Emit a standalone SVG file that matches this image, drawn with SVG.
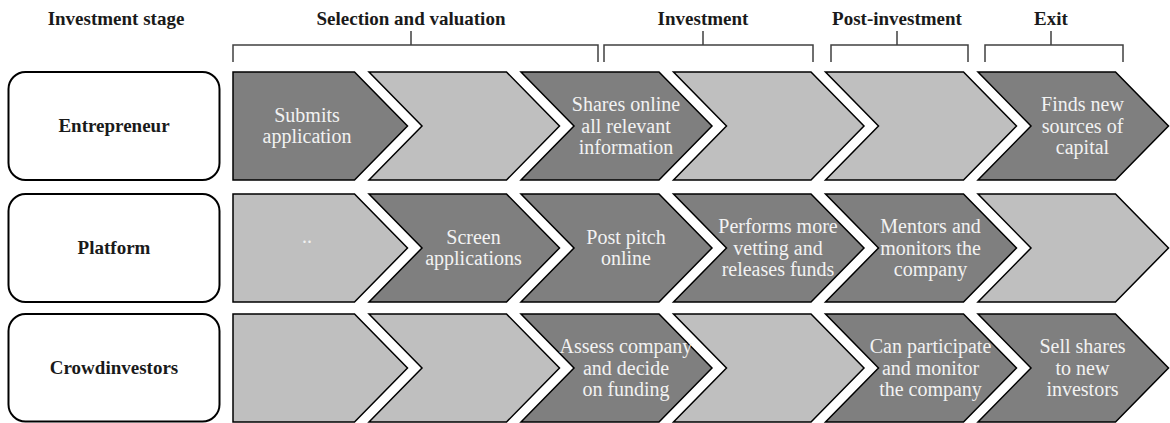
<svg xmlns="http://www.w3.org/2000/svg" xmlns:xlink="http://www.w3.org/1999/xlink" width="1170" height="423" viewBox="0 0 1170 423">
<style>
.hd{font-family:"Liberation Serif",serif;font-weight:bold;font-size:19px;fill:#1a1a1a;text-anchor:middle}
.lb{font-family:"Liberation Serif",serif;font-weight:bold;font-size:19px;fill:#1a1a1a;text-anchor:middle}
.box{fill:#ffffff;stroke:#000;stroke-width:2}
.dark{fill:#7f7f7f;stroke:#000;stroke-width:1.5;stroke-linejoin:miter}
.light{fill:#bfbfbf;stroke:#000;stroke-width:1.5;stroke-linejoin:miter}
.ct{font-family:"Liberation Serif",serif;font-size:20px;fill:#f2f2f2;text-anchor:middle}
.br{fill:none;stroke:#404040;stroke-width:1.5}
</style>
<defs>
<path id="ch1" d="M233,0 L354.5,0 L407.5,54 L354.5,108 L233,108 Z"/>
<path id="ch2" d="M369,0 L506.5,0 L559.5,54 L506.5,108 L369,108 L422,54 Z"/>
<path id="ch3" d="M521,0 L659,0 L712,54 L659,108 L521,108 L574,54 Z"/>
<path id="ch4" d="M673.5,0 L811,0 L864,54 L811,108 L673.5,108 L726.5,54 Z"/>
<path id="ch5" d="M825.5,0 L963.5,0 L1016.5,54 L963.5,108 L825.5,108 L878.5,54 Z"/>
<path id="ch6" d="M978,0 L1115.5,0 L1168.5,54 L1115.5,108 L978,108 L1031,54 Z"/>
</defs>

<g id="header">
<text class="hd" x="116" y="25">Investment stage</text>
<text class="hd" x="411" y="25">Selection and valuation</text>
<text class="hd" x="703" y="25">Investment</text>
<text class="hd" x="897" y="25">Post-investment</text>
<text class="hd" x="1051" y="25">Exit</text>
</g>

<g id="brackets">
<path class="br" d="M233,62 V45 H598 V62 M411,45 V31"/>
<path class="br" d="M604,62 V45 H813 V62 M703,45 V31"/>
<path class="br" d="M831,62 V45 H968 V62 M897,45 V31"/>
<path class="br" d="M985,62 V45 H1123 V62 M1051,45 V31"/>
</g>

<!-- Row 1: Entrepreneur -->
<g id="entrepreneur">
<rect class="box" x="8.5" y="72" width="211" height="108" rx="17"/>
<text class="lb" x="114" y="132">Entrepreneur</text>
</g>
<g id="r1c1"><use xlink:href="#ch1" class="dark" y="72"/>
<text class="ct" x="307"><tspan x="307" y="121.75">Submits</tspan><tspan x="307" y="143.25">application</tspan></text></g>
<g id="r1c2"><use xlink:href="#ch2" class="light" y="72"/></g>
<g id="r1c3"><use xlink:href="#ch3" class="dark" y="72"/>
<text class="ct" x="626"><tspan x="626" y="111">Shares online</tspan><tspan x="626" y="132.5">all relevant</tspan><tspan x="626" y="154">information</tspan></text></g>
<g id="r1c4"><use xlink:href="#ch4" class="light" y="72"/></g>
<g id="r1c5"><use xlink:href="#ch5" class="light" y="72"/></g>
<g id="r1c6"><use xlink:href="#ch6" class="dark" y="72"/>
<text class="ct" x="1082.5"><tspan x="1082.5" y="111">Finds new</tspan><tspan x="1082.5" y="132.5">sources of</tspan><tspan x="1082.5" y="154">capital</tspan></text></g>

<!-- Row 2: Platform -->
<g id="platform">
<rect class="box" x="8.5" y="194" width="211" height="108" rx="17"/>
<text class="lb" x="114" y="254">Platform</text>
</g>
<g id="r2c1"><use xlink:href="#ch1" class="light" y="194"/>
<text class="ct" x="307" y="243">..</text></g>
<g id="r2c2"><use xlink:href="#ch2" class="dark" y="194"/>
<text class="ct" x="473.5"><tspan x="473.5" y="243.75">Screen</tspan><tspan x="473.5" y="265.25">applications</tspan></text></g>
<g id="r2c3"><use xlink:href="#ch3" class="dark" y="194"/>
<text class="ct" x="626"><tspan x="626" y="243.75">Post pitch</tspan><tspan x="626" y="265.25">online</tspan></text></g>
<g id="r2c4"><use xlink:href="#ch4" class="dark" y="194"/>
<text class="ct" x="778"><tspan x="778" y="233">Performs more</tspan><tspan x="778" y="254.5">vetting and</tspan><tspan x="778" y="276">releases funds</tspan></text></g>
<g id="r2c5"><use xlink:href="#ch5" class="dark" y="194"/>
<text class="ct" x="930.5"><tspan x="930.5" y="233">Mentors and</tspan><tspan x="930.5" y="254.5">monitors the</tspan><tspan x="930.5" y="276">company</tspan></text></g>
<g id="r2c6"><use xlink:href="#ch6" class="light" y="194"/></g>

<!-- Row 3: Crowdinvestors -->
<g id="crowdinvestors">
<rect class="box" x="8.5" y="314" width="211" height="107.5" rx="17"/>
<text class="lb" x="114" y="374">Crowdinvestors</text>
</g>
<g id="r3c1"><use xlink:href="#ch1" class="light" y="314"/></g>
<g id="r3c2"><use xlink:href="#ch2" class="light" y="314"/></g>
<g id="r3c3"><use xlink:href="#ch3" class="dark" y="314"/>
<text class="ct" x="626"><tspan x="626" y="353">Assess company</tspan><tspan x="626" y="374.5">and decide</tspan><tspan x="626" y="396">on funding</tspan></text></g>
<g id="r3c4"><use xlink:href="#ch4" class="light" y="314"/></g>
<g id="r3c5"><use xlink:href="#ch5" class="dark" y="314"/>
<text class="ct" x="930.5"><tspan x="930.5" y="353">Can participate</tspan><tspan x="930.5" y="374.5">and monitor</tspan><tspan x="930.5" y="396">the company</tspan></text></g>
<g id="r3c6"><use xlink:href="#ch6" class="dark" y="314"/>
<text class="ct" x="1082.5"><tspan x="1082.5" y="353">Sell shares</tspan><tspan x="1082.5" y="374.5">to new</tspan><tspan x="1082.5" y="396">investors</tspan></text></g>
</svg>
